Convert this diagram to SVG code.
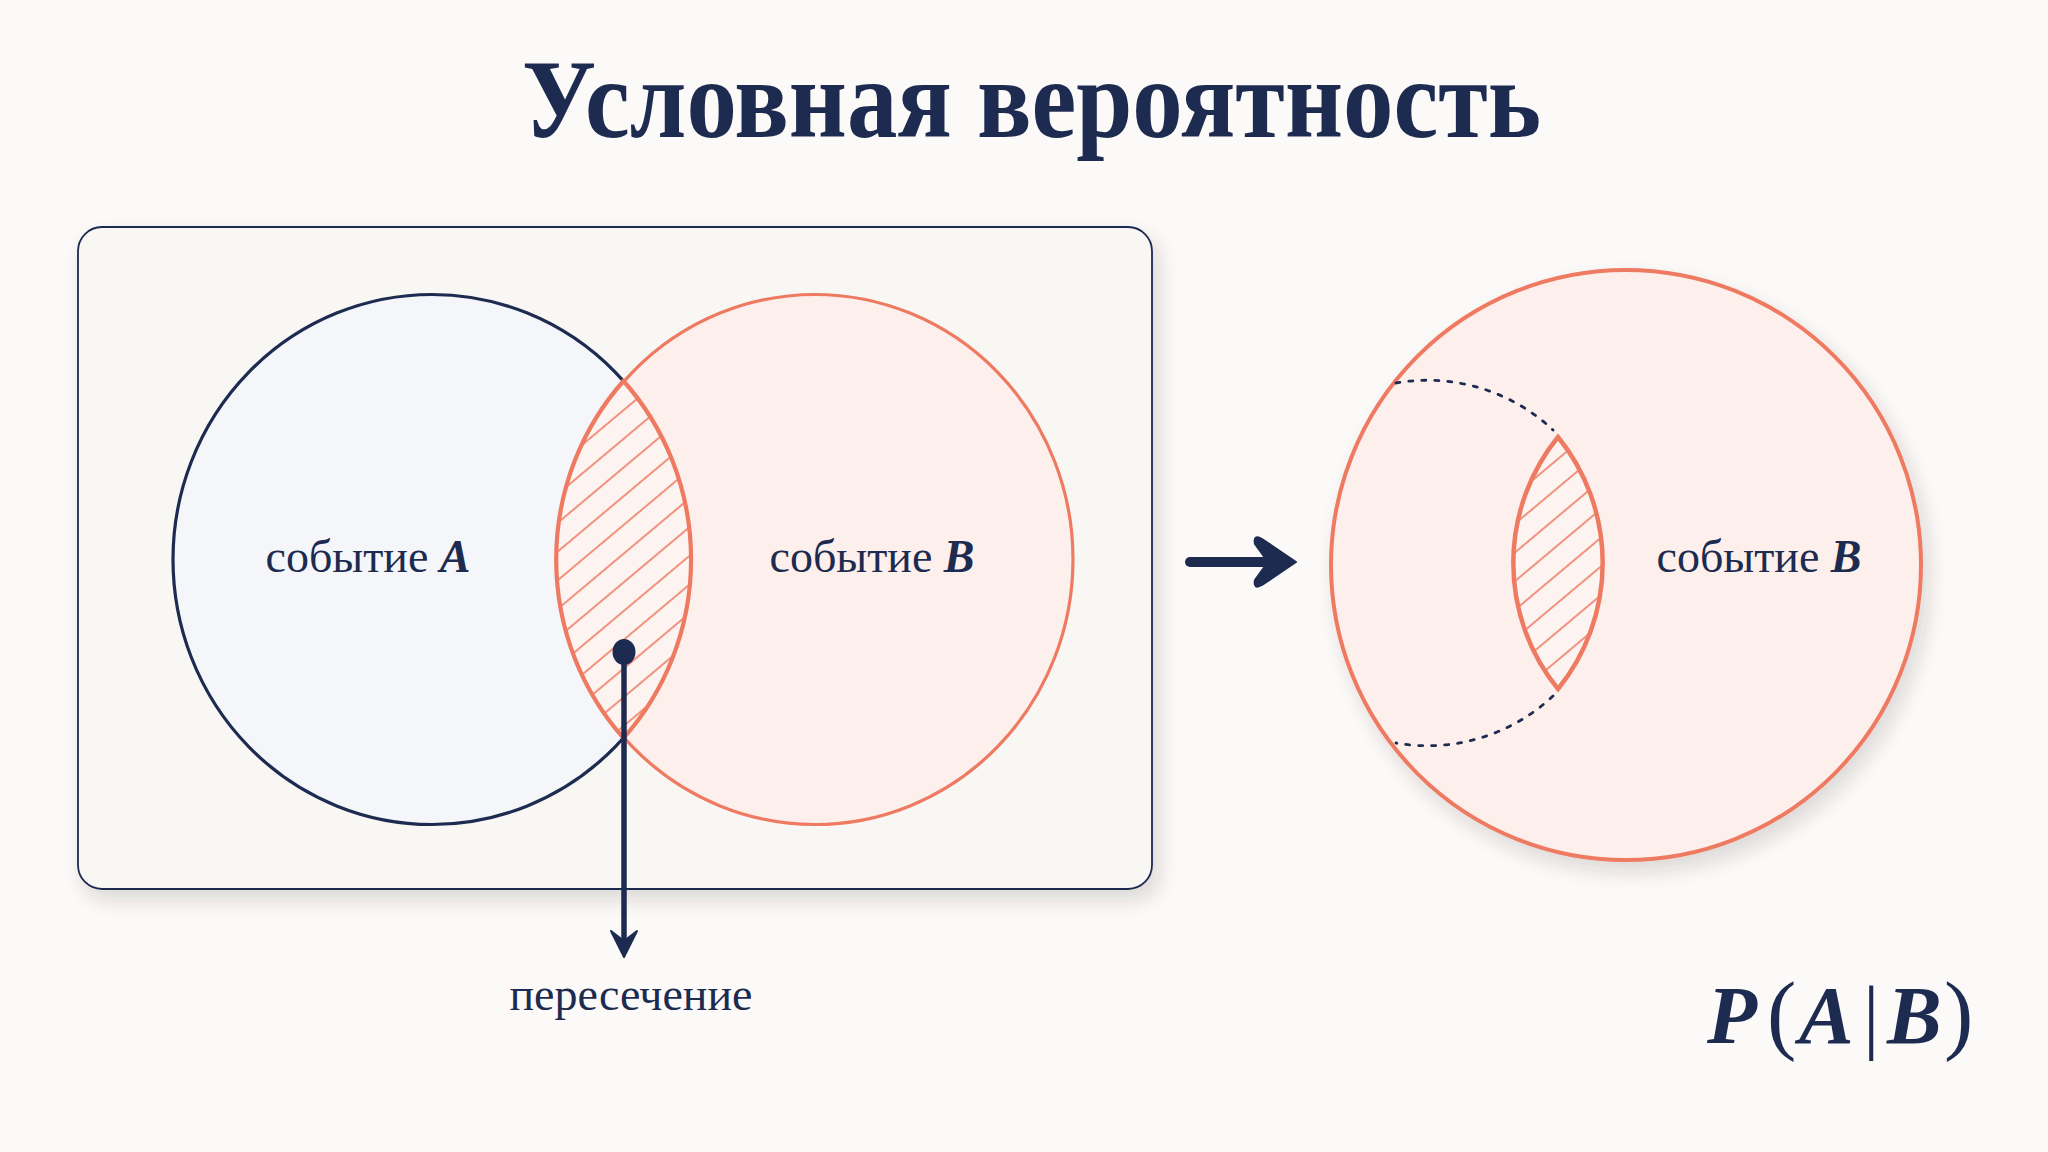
<svg xmlns="http://www.w3.org/2000/svg" width="2048" height="1152" viewBox="0 0 2048 1152">
  <style>
    .title { font-family: "Liberation Serif", "Times New Roman", serif; font-weight: bold; font-size: 112px; fill: #1e2b50; }
    .lbl { font-family: "Liberation Serif", "Times New Roman", serif; font-size: 46px; fill: #1e2b50; }
    .math { font-weight: bold; font-style: italic; }
    .formula { font-family: "Liberation Serif", "Times New Roman", serif; font-size: 82px; fill: #1e2b50; }
    .thin { font-size: 88px; }
  </style>
  <defs>
    <filter id="shadow" x="-20%" y="-20%" width="140%" height="140%">
      <feDropShadow dx="6" dy="10" stdDeviation="9" flood-color="#3a3030" flood-opacity="0.16"/>
    </filter>
    <pattern id="hatch" patternUnits="userSpaceOnUse" width="22" height="22" patternTransform="rotate(-40)">
      <rect width="22" height="22" fill="#fdf4f1"/>
      <line x1="0" y1="11" x2="22" y2="11" stroke="#ef7a62" stroke-width="1.6"/>
    </pattern>
  </defs>

  <rect width="2048" height="1152" fill="#fbfaf8"/>

  <text class="title" x="522" y="137" textLength="1019" lengthAdjust="spacingAndGlyphs">Условная вероятность</text>

  <g id="panel">
    <rect x="78" y="227" width="1074" height="662" rx="24" fill="#f8f7f4" stroke="#1e2b50" stroke-width="1.8" filter="url(#shadow)"/>
  </g>

  <g id="eventA">
    <ellipse cx="432" cy="559.5" rx="259" ry="265" fill="#f4f6f9" stroke="#1e2b50" stroke-width="3.2"/>
    <text class="lbl" x="368" y="572" text-anchor="middle">событие <tspan class="math">A</tspan></text>
  </g>
  <g id="eventB">
    <ellipse cx="815" cy="559.5" rx="258" ry="265" fill="#fdefeb" stroke="#ef7a62" stroke-width="3.2"/>
    <text class="lbl" x="872" y="572" text-anchor="middle">событие <tspan class="math">B</tspan></text>
  </g>
  <g id="intersection">
    <path d="M623.5,381 A259,265 0 0,1 623.5,738 A258,265 0 0,1 623.5,381 Z" fill="url(#hatch)" stroke="#ef7a62" stroke-width="4.2"/>
  </g>

  <g id="rightB">
    <circle cx="1626" cy="565" r="295" fill="#fdefeb" stroke="#ef7a62" stroke-width="4" filter="url(#shadow)"/>
    <path d="M1396,383 A183,183 0 0,1 1553,430" fill="none" stroke="#1e2b50" stroke-width="2.8" stroke-dasharray="4 9" stroke-linecap="round"/>
    <path d="M1553,696 A183,183 0 0,1 1396,743" fill="none" stroke="#1e2b50" stroke-width="2.8" stroke-dasharray="4 9" stroke-linecap="round"/>
    <path d="M1558,437 A200,200 0 0,1 1558,689 A200,200 0 0,1 1558,437 Z" fill="url(#hatch)" stroke="#ef7a62" stroke-width="4.5"/>
    <text class="lbl" x="1759" y="572" text-anchor="middle">событие <tspan class="math">B</tspan></text>
  </g>

  <g id="connectors">
    <ellipse cx="624" cy="652" rx="11.5" ry="13" fill="#1e2b50"/>
    <line x1="624" y1="652" x2="624" y2="945" stroke="#1e2b50" stroke-width="5.5"/>
    <path d="M624,957 L611,931 L624,941 L637,931 Z" fill="#1e2b50" stroke="#1e2b50" stroke-width="2" stroke-linejoin="round"/>
    <line x1="1190" y1="562" x2="1268" y2="562" stroke="#1e2b50" stroke-width="10" stroke-linecap="round"/>
    <path d="M1296,562 L1262,539 Q1253,534 1255,544 L1268,562 L1255,580 Q1253,590 1262,585 Z" fill="#1e2b50" stroke="#1e2b50" stroke-width="2" stroke-linejoin="round"/>
  </g>

  <g id="intersectionLabel">
    <text class="lbl" x="631" y="1010" text-anchor="middle">пересечение</text>
  </g>

  <g id="formula">
    <text class="formula" y="1043"><tspan class="math" x="1707">P</tspan><tspan class="thin" x="1767">(</tspan><tspan class="math" x="1799">A</tspan><tspan x="1863">|</tspan><tspan class="math" x="1887">B</tspan><tspan class="thin" x="1944">)</tspan></text>
  </g>
</svg>
